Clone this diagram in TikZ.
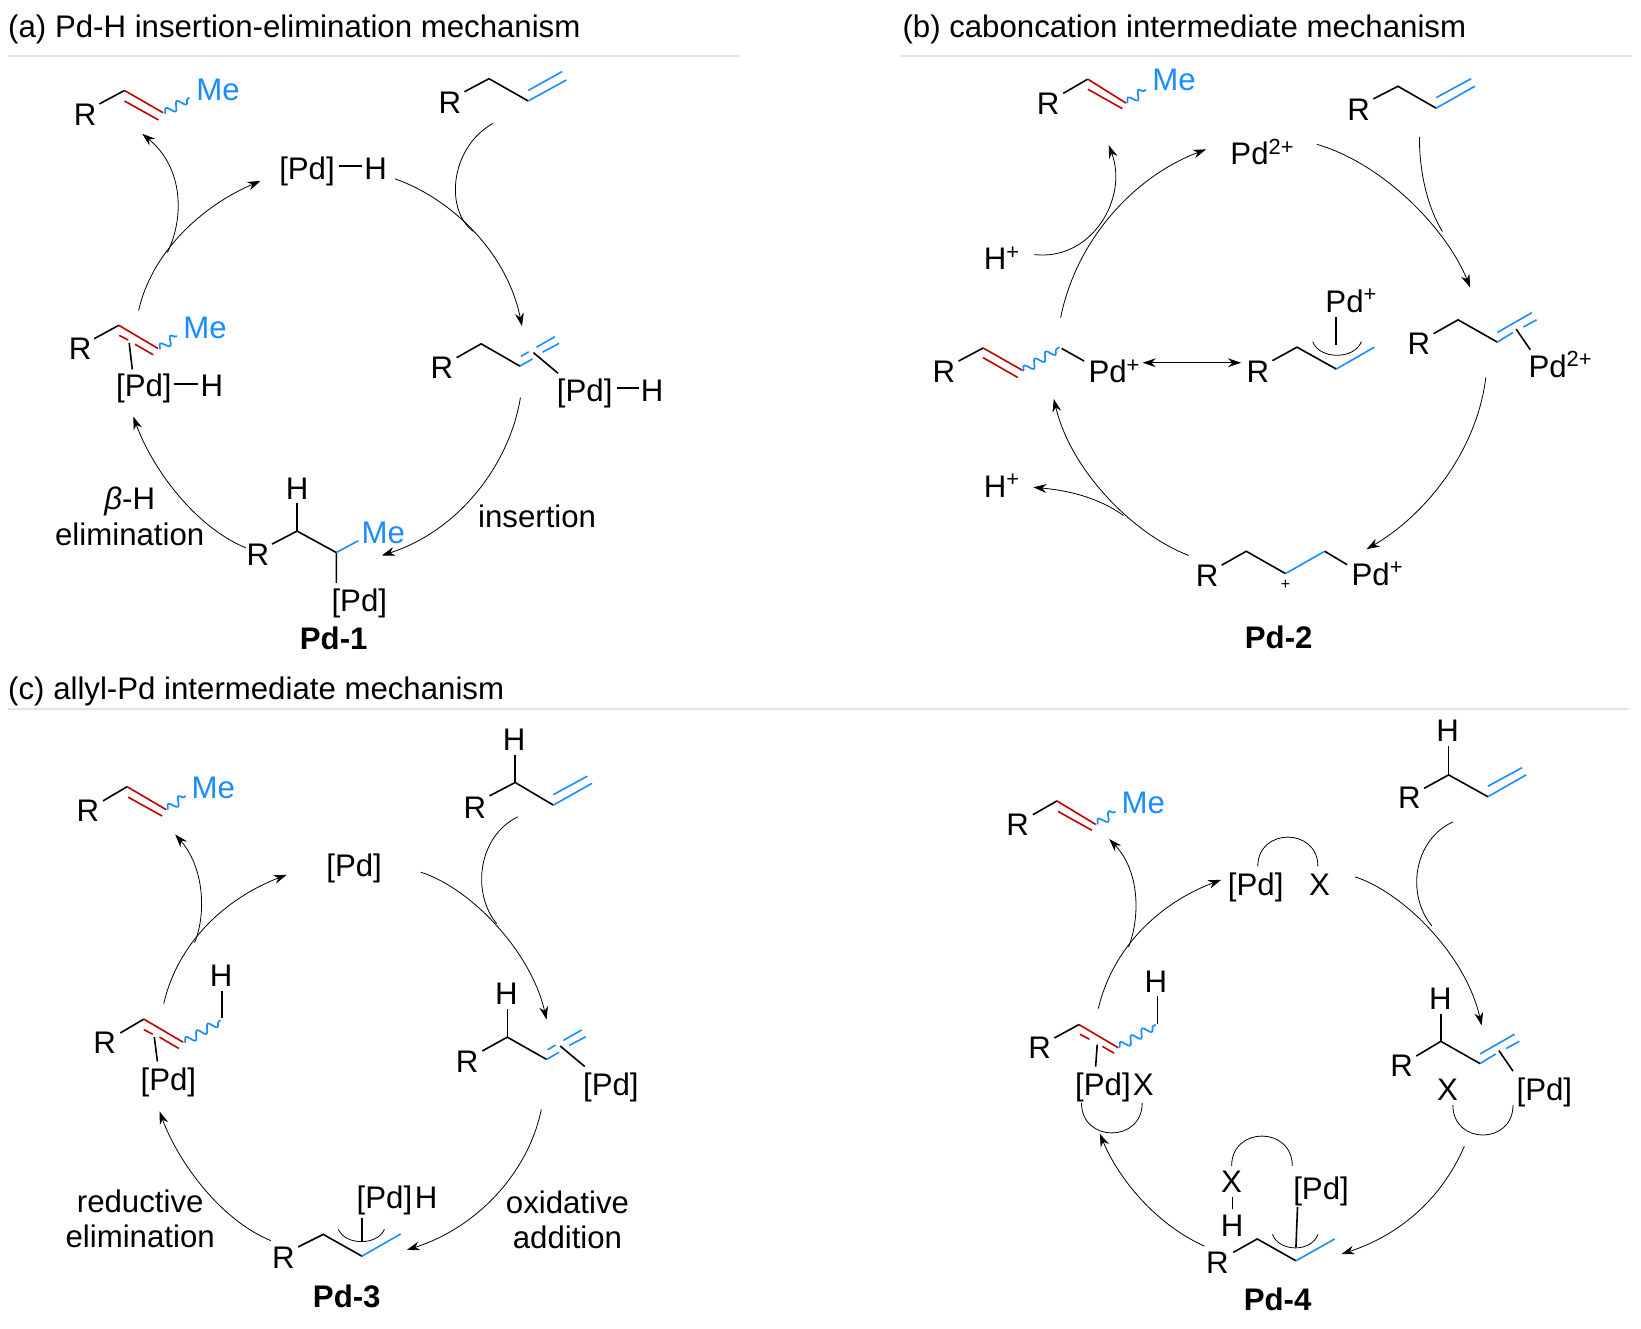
\documentclass[tikz,border=0pt]{standalone}
\usepackage{fontspec}
\setmainfont{Liberation Sans}
\usetikzlibrary{arrows.meta,decorations.pathmorphing}
\definecolor{cblue}{HTML}{1A8CFF}
\definecolor{cred}{HTML}{C00000}
\definecolor{crule}{HTML}{DDE4EC}
\tikzset{
  lab/.style={inner sep=0pt,text height=11pt,text depth=0pt,font=\fontsize{15.6}{17}\selectfont},
  blab/.style={lab,text=cblue},
  bold/.style={lab,font=\fontsize{15.6}{17}\selectfont\bfseries},
  ttl/.style={lab,anchor=west},
  bk/.style={draw=black,line width=0.8pt},
  bl/.style={draw=cblue,line width=0.8pt},
  rd/.style={draw=cred,line width=0.8pt},
  wav/.style={draw=cblue,line width=0.85pt,line join=round,decorate,decoration={snake,amplitude=2.1pt,segment length=6.4pt}},
  arr/.style={draw=black,line width=0.4pt,-{Stealth[length=6.5pt,width=4.4pt]}},
  dbl/.style={draw=black,line width=0.45pt,{Stealth[length=6.5pt,width=4.4pt]}-{Stealth[length=6.5pt,width=4.4pt]}},
  cv/.style={draw=black,line width=0.4pt},
  rulel/.style={draw=crule,line width=0.6pt},
  panelab/.style={x=0.2615pt,y=-0.2104pt},
  panelcd/.style={x=0.2615pt,y=-0.2098pt,yshift=-335pt},
}
\begin{document}
\begin{tikzpicture}[x=1pt,y=1pt]
\useasboundingbox (0,0) rectangle (820.5,-664);
% ---------- panel a
\begin{scope}[panelab]
\node[ttl] (atitle) at (15,62) {(a) Pd-H insertion-elimination mechanism};
\coordinate (arl) at (15,133); \coordinate (arr) at (1413,133);
\draw[rulel] (arl) -- (arr);
% product
\node[lab] (aR1) at (163,272) {R};
\node[blab] (aMe1) at (417,213) {Me};
\draw[bk] (190,247) -- (238,215);
\draw[rd] (238,215) -- (312,268) (238,240) -- (303,285);
\draw[wav] (315,270) -- (362,232);
% substrate
\node[lab] (aR2) at (860,243) {R};
\draw[bk] (888,218) -- (935,187) -- (1010,240);
\draw[bl] (1010,240) -- (1083,190) (1010,215) -- (1075,170);
% catalyst
\node[lab] (aPd1) at (587,400) {[Pd]};
\node[lab] (aH1) at (718,400) {H};
\draw[bk] (648,395) -- (692,395);
% pi complex right
\node[lab] (aR3) at (845,873) {R};
\draw[bk] (873,850) -- (920,817) -- (994,870);
\begin{scope}[shift={(994,870)}]
\draw[bl] (0,0) -- (24,-17) (43,-33) -- (75,-54) (2,-23) -- (17,-34) (32,-45) -- (67,-70);
\draw[bk] (26,-32) -- (73,17);
\end{scope}
\node[lab] (aPd2) at (1118,928) {[Pd]};
\node[lab] (aH2) at (1247,928) {H};
\draw[bk] (1180,922) -- (1222,922);
% Pd-1
\node[lab] (aR4) at (493,1317) {R};
\node[lab] (aH3) at (568,1160) {H};
\node[blab] (aMe2) at (733,1265) {Me};
\node[lab] (aPd3) at (687,1427) {[Pd]};
\node[bold] (aname) at (638,1518) {Pd-1};
\draw[bk] (520,1293) -- (568,1262) -- (643,1313) -- (643,1385);
\draw[bk] (568,1195) -- (568,1262);
\draw[bl] (643,1313) -- (685,1285);
% left complex
\node[lab] (aR5) at (153,828) {R};
\node[blab] (aMe3) at (392,778) {Me};
\node[lab] (aPd4) at (275,915) {[Pd]};
\node[lab] (aH4) at (405,915) {H};
\draw[bk] (180,805) -- (227,773);
\draw[rd] (227,773) -- (302,828) (228,797) -- (245,808) (258,818) -- (293,843);
\draw[bk] (247,815) -- (253,878);
\draw[wav] (305,830) -- (338,798);
\draw[bk] (333,912) -- (378,912);
% labels
\node[lab] (abeta) at (248,1185) {\textit{β}-H};
\node[lab] (aelim) at (248,1270) {elimination};
\node[lab] (ains) at (1027,1228) {insertion};
% arrows
\coordinate (a1s) at (755,425); \coordinate (a1e) at (998,775);
\draw[arr] (a1s) .. controls (860,470) and (969,597) .. (a1e);
\coordinate (a2s) at (943,293); \coordinate (a2e) at (905,550);
\draw[cv] (a2s) .. controls (860,350) and (850,500) .. (a2e);
\coordinate (a3s) at (995,945); \coordinate (a3e) at (730,1320);
\draw[arr] (a3s) .. controls (975,1100) and (880,1260) .. (a3e);
\coordinate (a4s) at (470,1302); \coordinate (a4e) at (255,990);
\draw[arr] (a4s) .. controls (370,1250) and (290,1110) .. (a4e);
\coordinate (a5s) at (265,738); \coordinate (a5e) at (498,430);
\draw[arr] (a5s) .. controls (290,600) and (385,490) .. (a5e);
\coordinate (a6s) at (320,600); \coordinate (a6e) at (272,318);
\draw[arr] (a6s) .. controls (352,520) and (352,400) .. (a6e);
\end{scope}
% ---------- panel b
\begin{scope}[panelab,xshift=410pt]
\node[ttl] (btitle) at (157,62) {(b) caboncation intermediate mechanism};
\coordinate (brl) at (155,133); \coordinate (brr) at (1553,133);
\draw[rulel] (brl) -- (brr);
\node[lab] (bR1) at (436,245) {R};
\node[blab] (bMe1) at (677,190) {Me};
\draw[bk] (465,222) -- (512,188);
\draw[rd] (512,188) -- (585,245) (512,212) -- (578,258);
\draw[wav] (587,245) -- (623,213);
\node[lab] (bR2) at (1030,260) {R};
\draw[bk] (1058,235) -- (1105,205) -- (1178,257);
\draw[bl] (1178,257) -- (1252,205) (1178,232) -- (1245,187);
\node[lab] (bPd1) at (846,365) {Pd\textsuperscript{2+}};
\node[lab] (bHa) at (348,615) {H\textsuperscript{+}};
\node[lab] (bHb) at (348,1155) {H\textsuperscript{+}};
% left
\node[lab] (bR3) at (237,883) {R};
\draw[bk] (265,858) -- (312,827);
\draw[rd] (312,827) -- (387,880) (312,850) -- (378,897);
\draw[wav] (388,882) -- (458,825);
\draw[bk] (462,828) -- (505,858);
\node[lab] (bPd2) at (563,883) {Pd\textsuperscript{+}};
% resonance partner
\node[lab] (bR4) at (837,882) {R};
\draw[bk] (865,857) -- (912,825) -- (987,877);
\draw[bl] (987,877) -- (1060,825);
\draw[cv] (942,812) .. controls (955,855) and (1022,855) .. (1035,812);
\draw[bk] (987,753) -- (987,820);
\node[lab] (bPd3) at (1016,716) {Pd\textsuperscript{+}};
\coordinate (b0s) at (617,862); \coordinate (b0e) at (805,862);
\draw[dbl] (b0s) -- (b0e);
% right complex
\node[lab] (bR5) at (1145,817) {R};
\draw[bk] (1173,793) -- (1220,760) -- (1295,813);
\begin{scope}[shift={(1295,813)}]
\draw[bl] (0,0) -- (30,-23) (50,-36) -- (75,-53) (0,-23) -- (66,-70);
\draw[bk] (36,-31) -- (63,18);
\end{scope}
\node[lab] (bPd4) at (1416,870) {Pd\textsuperscript{2+}};
% bottom
\node[lab] (bR6) at (740,1367) {R};
\draw[bk] (768,1343) -- (815,1310) -- (890,1363);
\draw[bl] (890,1363) -- (965,1310);
\draw[bk] (965,1310) -- (1008,1342);
\node[lab] (bPd5) at (1066,1365) {Pd\textsuperscript{+}};
\node[inner sep=0pt,font=\fontsize{8}{9}\selectfont] (bplus) at (890,1390) {+};
\node[bold] (bname) at (877,1515) {Pd-2};
% arrows
\coordinate (b1s) at (950,343); \coordinate (b1e) at (1243,683);
\draw[arr] (b1s) .. controls (1080,390) and (1200,549) .. (b1e);
\coordinate (b2s) at (1146,325); \coordinate (b2e) at (1190,550);
\draw[cv] (b2s) .. controls (1146,420) and (1165,500) .. (b2e);
\coordinate (b3s) at (1273,897); \coordinate (b3e) at (1045,1305);
\draw[arr] (b3s) .. controls (1255,1080) and (1150,1230) .. (b3e);
\coordinate (b4s) at (705,1320); \coordinate (b4e) at (447,948);
\draw[arr] (b4s) .. controls (600,1270) and (480,1120) .. (b4e);
\coordinate (b5s) at (580,1225); \coordinate (b5e) at (408,1158);
\draw[arr] (b5s) .. controls (530,1180) and (470,1165) .. (b5e);
\coordinate (b6s) at (460,755); \coordinate (b6e) at (738,355);
\draw[arr] (b6s) .. controls (490,570) and (600,420) .. (b6e);
\coordinate (b7s) at (410,605); \coordinate (b7e) at (552,345);
\draw[arr] (b7s) .. controls (520,620) and (590,470) .. (b7e);
\end{scope}
% ---------- panel c
\begin{scope}[panelcd]
\node[ttl] (ctitle) at (15,45) {(c) allyl-Pd intermediate mechanism};
\coordinate (crl) at (15,93); \coordinate (crr) at (3115,93);
\draw[rulel] (crl) -- (crr);
\node[lab] (cR1) at (168,335) {R};
\node[blab] (cMe1) at (408,280) {Me};
\draw[bk] (197,312) -- (243,278);
\draw[rd] (243,278) -- (318,333) (245,303) -- (310,348);
\draw[wav] (320,333) -- (355,300);
\node[lab] (cH1) at (983,165) {H};
\node[lab] (cR2) at (908,327) {R};
\draw[bk] (985,203) -- (985,268);
\draw[bk] (936,300) -- (985,268) -- (1058,322);
\draw[bl] (1058,322) -- (1132,270) (1058,297) -- (1123,253);
\node[lab] (cPd1) at (677,465) {[Pd]};
% left
\node[lab] (cR3) at (200,888) {R};
\draw[bk] (230,865) -- (275,832);
\draw[rd] (275,832) -- (350,887) (275,857) -- (292,868) (305,875) -- (342,902);
\draw[bk] (295,875) -- (301,933);
\node[lab] (cPd2) at (322,977) {[Pd]};
\draw[wav] (353,888) -- (422,835);
\draw[bk] (425,830) -- (425,765);
\node[lab] (cH2) at (423,727) {H};
% right
\node[lab] (cH3) at (968,770) {H};
\node[lab] (cR4) at (893,932) {R};
\draw[bk] (970,808) -- (970,875);
\draw[bk] (922,908) -- (970,875) -- (1045,928);
\begin{scope}[shift={(1045,928)}]
\draw[bl] (0,0) -- (24,-17) (43,-33) -- (75,-54) (2,-23) -- (17,-34) (32,-45) -- (67,-70);
\draw[bk] (26,-32) -- (73,17);
\end{scope}
\node[lab] (cPd3) at (1168,988) {[Pd]};
% bottom
\node[lab] (cR5) at (542,1400) {R};
\draw[bk] (570,1375) -- (618,1345) -- (692,1397);
\draw[bl] (692,1397) -- (766,1344);
\draw[cv] (647,1333) .. controls (660,1372) and (722,1372) .. (735,1333);
\draw[bk] (692,1307) -- (692,1360);
\node[lab] (cPd4) at (735,1257) {[Pd]};
\node[lab] (cH4) at (815,1257) {H};
\node[lab] (cred1) at (268,1267) {reductive};
\node[lab] (cel) at (268,1350) {elimination};
\node[lab] (cox) at (1085,1268) {oxidative};
\node[lab] (cadd) at (1085,1353) {addition};
\node[bold] (cname) at (663,1493) {Pd-3};
% arrows
\coordinate (c1s) at (805,482); \coordinate (c1e) at (1045,833);
\draw[arr] (c1s) .. controls (900,520) and (1015,670) .. (c1e);
\coordinate (c2s) at (990,350); \coordinate (c2e) at (950,605);
\draw[cv] (c2s) .. controls (915,395) and (900,530) .. (c2e);
\coordinate (c3s) at (1035,1047); \coordinate (c3e) at (778,1382);
\draw[arr] (c3s) .. controls (1010,1200) and (910,1330) .. (c3e);
\coordinate (c4s) at (518,1360); \coordinate (c4e) at (305,1052);
\draw[arr] (c4s) .. controls (420,1310) and (340,1170) .. (c4e);
\coordinate (c5s) at (313,795); \coordinate (c5e) at (548,488);
\draw[arr] (c5s) .. controls (340,650) and (430,545) .. (c5e);
\coordinate (c6s) at (372,650); \coordinate (c6e) at (335,392);
\draw[arr] (c6s) .. controls (395,580) and (390,470) .. (c6e);
\end{scope}
% ---------- panel d
\begin{scope}[panelcd,xshift=410pt]
\node[lab] (dR1) at (378,368) {R};
\node[blab] (dMe1) at (618,315) {Me};
\draw[bk] (407,345) -- (453,312);
\draw[rd] (453,312) -- (527,368) (455,337) -- (520,382);
\draw[wav] (530,368) -- (565,337);
\node[lab] (dH1) at (1200,145) {H};
\node[lab] (dR2) at (1127,305) {R};
\draw[bk] (1202,182) -- (1202,250);
\draw[bk] (1155,282) -- (1202,250) -- (1277,302);
\draw[bl] (1277,302) -- (1350,250) (1277,277) -- (1342,233);
\node[lab] (dPd1) at (833,510) {[Pd]};
\node[lab] (dX1) at (955,510) {X};
\draw[cv] (837,468) .. controls (837,375) and (952,375) .. (952,468);
% left
\node[lab] (dR3) at (420,900) {R};
\draw[bk] (448,877) -- (495,845);
\draw[rd] (495,845) -- (570,900) (497,868) -- (515,880) (540,897) -- (562,913);
\draw[bk] (530,893) -- (527,945);
\draw[wav] (572,900) -- (642,845);
\draw[bk] (645,843) -- (645,778);
\node[lab] (dH2) at (642,742) {H};
\node[lab] (dPd2) at (541,988) {[Pd]};
\node[lab] (dX2) at (618,988) {X};
\draw[cv] (500,1032) .. controls (500,1127) and (616,1127) .. (616,1032);
% right
\node[lab] (dH3) at (1186,782) {H};
\node[lab] (dR4) at (1112,943) {R};
\draw[bk] (1187,820) -- (1187,885);
\draw[bk] (1140,920) -- (1187,885) -- (1262,938);
\begin{scope}[shift={(1262,938)}]
\draw[bl] (0,0) -- (30,-23) (50,-36) -- (75,-53) (0,-23) -- (66,-70);
\draw[bk] (36,-31) -- (63,18);
\end{scope}
\node[lab] (dPd3) at (1385,1000) {[Pd]};
\node[lab] (dX3) at (1200,1000) {X};
\draw[cv] (1210,1037) .. controls (1210,1132) and (1325,1132) .. (1325,1037);
% bottom
\node[lab] (dR5) at (760,1412) {R};
\draw[bk] (790,1388) -- (836,1356) -- (910,1408);
\draw[bl] (910,1408) -- (984,1356);
\draw[cv] (865,1345) .. controls (878,1388) and (940,1388) .. (952,1345);
\draw[bk] (913,1280) -- (910,1375);
\node[lab] (dPd4) at (958,1235) {[Pd]};
\node[lab] (dX4) at (787,1220) {X};
\draw[bk] (789,1255) -- (789,1285);
\node[lab] (dH4) at (788,1325) {H};
\draw[cv] (787,1182) .. controls (787,1087) and (903,1087) .. (903,1182);
\node[bold] (dname) at (875,1500) {Pd-4};
% arrows
\coordinate (d1s) at (1023,493); \coordinate (d1e) at (1265,847);
\draw[arr] (d1s) .. controls (1115,530) and (1235,680) .. (d1e);
\coordinate (d2s) at (1210,362); \coordinate (d2e) at (1170,610);
\draw[cv] (d2s) .. controls (1135,405) and (1120,535) .. (d2e);
\coordinate (d3s) at (1232,1135); \coordinate (d3e) at (997,1392);
\draw[arr] (d3s) .. controls (1185,1270) and (1100,1350) .. (d3e);
\coordinate (d4s) at (735,1373); \coordinate (d4e) at (535,1105);
\draw[arr] (d4s) .. controls (640,1320) and (570,1210) .. (d4e);
\coordinate (d5s) at (532,807); \coordinate (d5e) at (767,500);
\draw[arr] (d5s) .. controls (560,660) and (650,555) .. (d5e);
\coordinate (d6s) at (590,660); \coordinate (d6e) at (553,403);
\draw[arr] (d6s) .. controls (612,590) and (612,480) .. (d6e);
\end{scope}
\end{tikzpicture}
\end{document}
